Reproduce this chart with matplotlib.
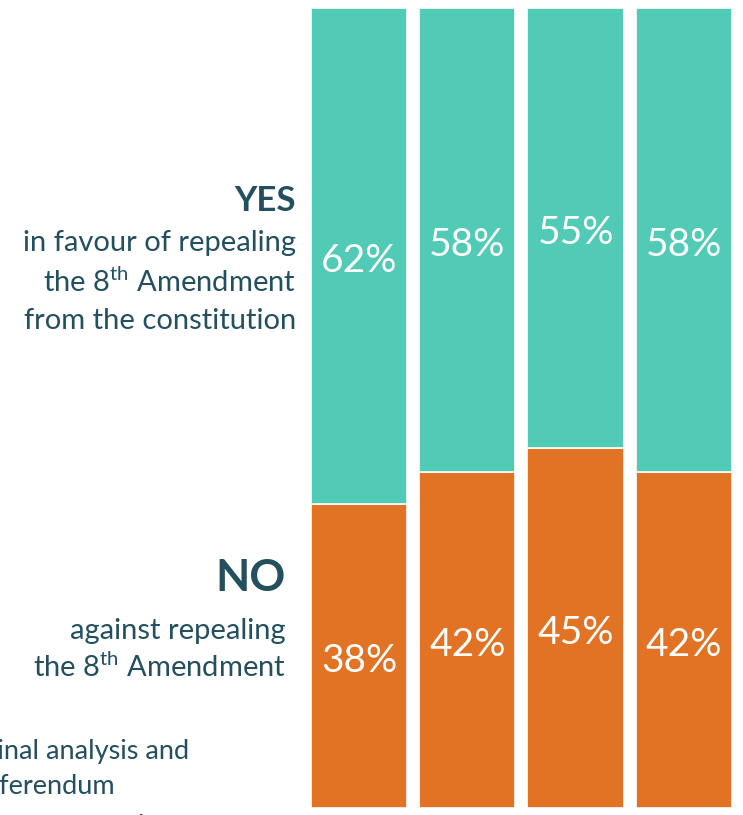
import matplotlib
matplotlib.use("Agg")
import matplotlib.pyplot as plt
import numpy as np

plt.rcParams['font.family'] = ['Lato', 'DejaVu Sans']
plt.rcParams['mathtext.fontset'] = 'custom'
plt.rcParams['mathtext.rm'] = 'Lato'
plt.rcParams['mathtext.it'] = 'Lato'

# data
polls = ["Poll 1", "Poll 2", "Poll 3", "Poll 4"]
yes_pct = [62, 58, 55, 58]
no_pct = [38, 42, 45, 42]

TEAL = "#52CBB6"
ORANGE = "#E27325"
TXT = "#234F5E"

W, H = 743, 815
fig = plt.figure(figsize=(W / 100, H / 100), dpi=100)

ax = fig.add_axes([304.8 / W, 7 / H, 433.3 / W, 800 / H])
x = np.arange(len(polls))
# YES on top, NO at the bottom
ax.bar(x, no_pct, width=0.89, color=ORANGE, edgecolor="white", linewidth=1.2)
ax.bar(x, yes_pct, bottom=no_pct, width=0.89, color=TEAL, edgecolor="white", linewidth=1.2)
ax.set_xlim(-0.5, len(polls) - 0.5)
ax.set_ylim(0, 100)
ax.axis("off")

for i in range(len(polls)):
    ax.text(x[i], no_pct[i] + yes_pct[i] / 2 - 0.6, f"{yes_pct[i]}%", ha="center", va="center",
            color="white", fontsize=28)
    ax.text(x[i], no_pct[i] / 2 - 0.6, f"{no_pct[i]}%", ha="center", va="center",
            color="white", fontsize=28)

def px(xp, yp):
    return xp / W, 1 - yp / H

# left-hand labels
fig.text(*px(296, 201), "YES", ha="right", va="center", color=TXT, fontsize=25, fontweight="bold")
fig.text(*px(296, 243), "in favour of repealing", ha="right", va="center", color=TXT, fontsize=21)
fig.text(*px(296, 282), r"the 8$^{\mathrm{th}}$ Amendment", ha="right", va="center", color=TXT, fontsize=21)
fig.text(*px(296, 321), "from the constitution", ha="right", va="center", color=TXT, fontsize=21)

fig.text(*px(286, 578), "NO", ha="right", va="center", color=TXT, fontsize=32, fontweight="bold")
fig.text(*px(286, 631), "against repealing", ha="right", va="center", color=TXT, fontsize=21)
fig.text(*px(286, 667), r"the 8$^{\mathrm{th}}$ Amendment", ha="right", va="center", color=TXT, fontsize=21)

# cut-off note at bottom left
fig.text(*px(-18, 752), "Final analysis and", ha="left", va="center", color=TXT, fontsize=19.5)
fig.text(*px(-25, 786), "referendum", ha="left", va="center", color=TXT, fontsize=19.5)
fig.text(*px(-45, 827), "the statement that t", ha="left", va="center", color=TXT, fontsize=19.5)

fig.savefig("out.png", dpi=100)
